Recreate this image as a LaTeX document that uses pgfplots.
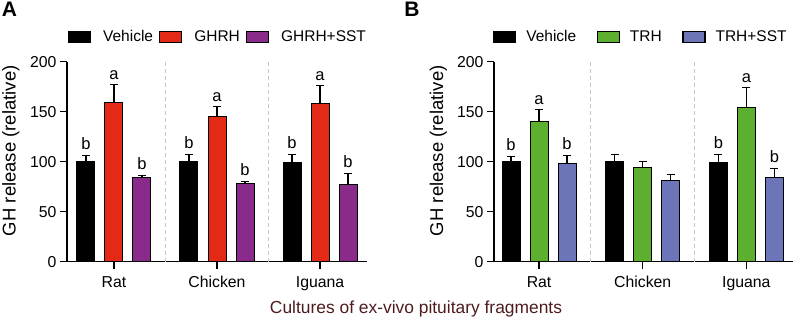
\documentclass[border=0pt]{standalone}
\usepackage{pgfplots}
\pgfplotsset{compat=1.18}
\usepackage{fontspec}
\setmainfont{Liberation Sans}
\definecolor{cred}{HTML}{E32A17}
\definecolor{cpur}{HTML}{8A2A8A}
\definecolor{cgrn}{HTML}{5DB02F}
\definecolor{cblu}{HTML}{6B75B8}
\definecolor{cxlab}{HTML}{4E1C1E}
\newcommand{\fs}[1]{\fontsize{#1}{#1}\selectfont}
\tikzset{lab/.style={font=\fs{16.5}, anchor=base, inner sep=0pt}}
\pgfplotsset{
  panel/.style={
    scale only axis, width=300pt, height=200pt,
    anchor=south west,
    ymin=0, ymax=200,
    ytick={0,50,100,150,200},
    xtick={0,1,2}, xticklabels={Rat,Chicken,Iguana},
    axis lines=left,
    axis line style={-, line width=1.2pt},
    tick align=outside, major tick length=7pt,
    tick style={line width=1.2pt, black},
    /pgf/number format/assume math mode=true,
    tick label style={font=\fs{15.8}},
    xticklabel style={yshift=-4pt},
    yticklabel style={xshift=0pt},
    extra x ticks={0.5,1.5}, extra x tick labels={},
    extra x tick style={grid=major, major tick length=0pt,
      major grid style={gray!45, line width=0.9pt, dash pattern=on 4pt off 3pt}},
    ybar, bar width=18pt,
    ylabel={GH release (relative)},
    ylabel style={font=\fs{18.5}, at={(axis description cs:-0.187,0.555)}, anchor=center, rotate=0},
    legend columns=3,
    legend image code/.code={\draw[#1, line width=1.2pt] (0pt,-5.5pt) rectangle (22pt,5.5pt);},
    legend style={draw=none, fill=none, inner sep=0pt, outer sep=0pt, font=\fs{15.5},
      nodes={inner sep=0pt}},
  },
  bars/.style={draw=black, line width=1pt, fill=#1,
    error bars/y dir=plus, error bars/y explicit,
    error bars/error bar style={line width=1.3pt, black},
    error bars/error mark options={rotate=90, mark size=4pt, line width=1.3pt, black}},
}
\begin{document}
\begin{tikzpicture}[x=1pt,y=1pt]
\useasboundingbox (0,0) rectangle (796,319);
% ---------- Panel A ----------
\begin{axis}[panel, at={(67pt,57.3pt)}, xmin=-0.456, xmax=2.456,
  legend style={at={(axis description cs:0.003,1.125)}, anchor=west,
    /tikz/every odd column/.append style={column sep=12pt},
    /tikz/every even column/.append style={column sep=6pt}}]
\addplot+[bar shift=-28pt, bars=black] table[x=x, y=y, y error=e] {
x y e
0 100 6
1 100 7
2 99 8
};
\addplot+[bar shift=0pt, bars=cred] table[x=x, y=y, y error=e] {
x y e
0 159 18
1 145 10
2 158 18
};
\addplot+[bar shift=28pt, bars=cpur] table[x=x, y=y, y error=e] {
x y e
0 84 2
1 78 2.5
2 77 11
};
\legend{Vehicle,GHRH,GHRH+SST}
\node[lab] at (axis cs:0,106) [xshift=-28pt, yshift=6pt] {b};
\node[lab] at (axis cs:1,107) [xshift=-28pt, yshift=6pt] {b};
\node[lab] at (axis cs:2,107) [xshift=-28pt, yshift=6pt] {b};
\node[lab] at (axis cs:0,177) [yshift=5pt] {a};
\node[lab] at (axis cs:1,155) [yshift=5pt] {a};
\node[lab] at (axis cs:2,176) [yshift=5pt] {a};
\node[lab] at (axis cs:0,86) [xshift=28pt, yshift=6pt] {b};
\node[lab] at (axis cs:1,80.5) [xshift=28pt, yshift=6pt] {b};
\node[lab] at (axis cs:2,88) [xshift=28pt, yshift=6pt] {b};
\end{axis}
% ---------- Panel B ----------
\begin{axis}[panel, width=299pt, at={(494pt,57.3pt)}, xmin=-0.435, xmax=2.45,
  ylabel style={at={(axis description cs:-0.186,0.555)}},
  legend style={at={(axis description cs:-0.003,1.125)}, anchor=west,
    /tikz/every odd column/.append style={column sep=10pt},
    /tikz/every even column/.append style={column sep=20.5pt}}]
\addplot+[bar shift=-28pt, bars=black] table[x=x, y=y, y error=e] {
x y e
0 100 5
1 100 7
2 99 8
};
\addplot+[bar shift=0pt, bars=cgrn] table[x=x, y=y, y error=e] {
x y e
0 140 12
1 94 6
2 154 20
};
\addplot+[bar shift=28pt, bars=cblu] table[x=x, y=y, y error=e] {
x y e
0 98 8
1 81 6
2 84 9
};
\legend{Vehicle,TRH,TRH+SST}
\node[lab] at (axis cs:0,105) [xshift=-28pt, yshift=6pt] {b};
\node[lab] at (axis cs:0,152) [yshift=5pt] {a};
\node[lab] at (axis cs:0,106) [xshift=28pt, yshift=6pt] {b};
\node[lab] at (axis cs:2,107) [xshift=-28pt, yshift=6pt] {b};
\node[lab] at (axis cs:2,174) [yshift=5pt] {a};
\node[lab] at (axis cs:2,93) [xshift=28pt, yshift=6pt] {b};
\end{axis}
% ---------- labels ----------
\node[font=\bfseries\fs{21}, anchor=center] at (9.5,309.5) {A};
\node[font=\bfseries\fs{21}, anchor=center] at (412,309.5) {B};
\node[font=\fs{17.4}, text=cxlab, anchor=base, inner sep=0pt] at (416,5.7) {Cultures of ex-vivo pituitary fragments};
\end{tikzpicture}
\end{document}
